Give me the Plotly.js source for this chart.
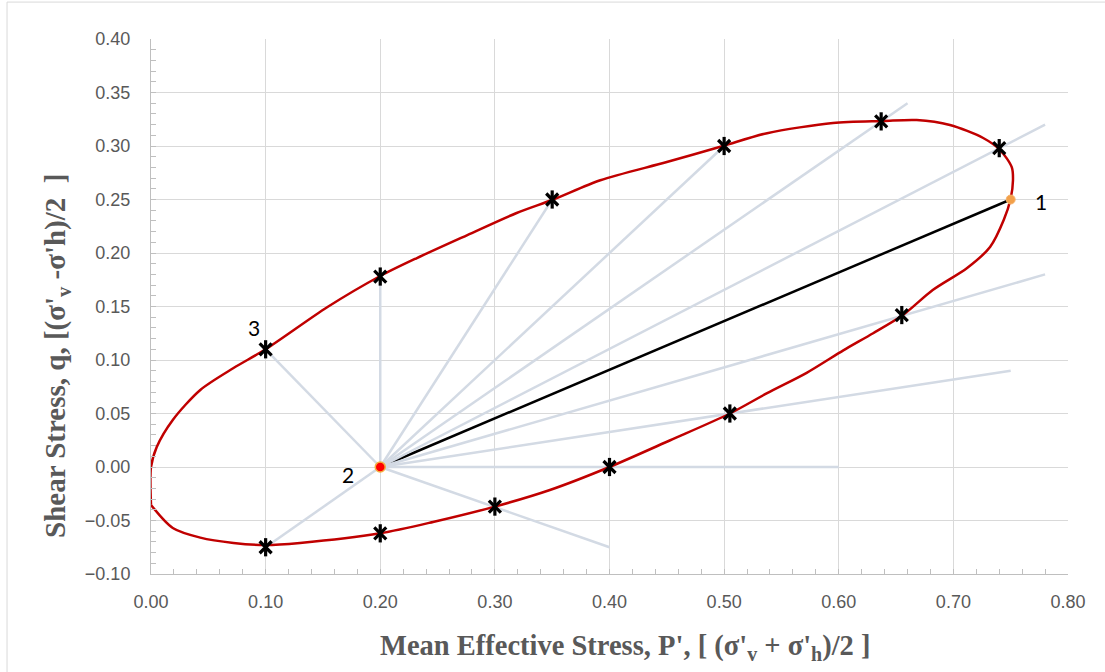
<!DOCTYPE html>
<html>
<head>
<meta charset="utf-8">
<script src="https://cdn.plot.ly/plotly-3.0.1.min.js"></script>
<style>
html,body{margin:0;padding:0;background:#fff;}
#chart{width:1105px;height:672px;}
</style>
</head>
<body>
<div id="chart"></div>
<script>
// ---- data ----
const pathX = [0, 0, 0.005, 0.019, 0.043, 0.072, 0.10, 0.154, 0.20, 0.232, 0.276, 0.319, 0.351, 0.392, 0.450, 0.499, 0.5375, 0.595, 0.639, 0.668, 0.697, 0.726, 0.741, 0.751, 0.752, 0.750, 0.744, 0.732, 0.712, 0.682, 0.656, 0.630, 0.604, 0.572, 0.5375, 0.505, 0.453, 0.40, 0.348, 0.30, 0.246, 0.20, 0.13, 0.10, 0.072, 0.043, 0.019, 0];
const pathY = [-0.035, 0, 0.0187, 0.044, 0.072, 0.0925, 0.110, 0.1495, 0.1785, 0.1953, 0.2168, 0.2374, 0.250, 0.268, 0.285, 0.300, 0.312, 0.3215, 0.3234, 0.3243, 0.3196, 0.3075, 0.296, 0.280, 0.268, 0.251, 0.231, 0.2056, 0.186, 0.1654, 0.142, 0.125, 0.109, 0.088, 0.069, 0.050, 0.025, 0.000, -0.0215, -0.037, -0.0514, -0.062, -0.071, -0.073, -0.071, -0.066, -0.057, -0.0355];

const starX = [0.10, 0.20, 0.35, 0.50, 0.637, 0.74, 0.655, 0.505, 0.40, 0.30, 0.20, 0.10];
const starY = [0.11, 0.178, 0.25, 0.30, 0.323, 0.298, 0.142, 0.05, 0.00, -0.037, -0.062, -0.075];

const rayEndX = [0.10, 0.20, 0.35, 0.50, 0.66, 0.78, 0.78, 0.75, 0.60, 0.40, 0.10];
const rayEndY = [0.11, 0.178, 0.25, 0.30, 0.34, 0.32, 0.18, 0.09, 0.00, -0.075, -0.075];

const point1 = {x: 0.75, y: 0.25, label: '1'};
const point2 = {x: 0.20, y: 0.00, label: '2'};
const point3 = {x: 0.10, y: 0.11, label: '3'};

const xTickVals = [0, 0.1, 0.2, 0.3, 0.4, 0.5, 0.6, 0.7, 0.8];
const yTickVals = [-0.10, -0.05, 0, 0.05, 0.10, 0.15, 0.20, 0.25, 0.30, 0.35, 0.40];

// ---- build traces ----
const rx = [], ry = [];
for (let i = 0; i < rayEndX.length; i++) {
  rx.push(point2.x, rayEndX[i], null);
  ry.push(point2.y, rayEndY[i], null);
}

const traces = [
  {x: [point2.x, point1.x], y: [point2.y, point1.y], mode: 'lines',
   line: {color: '#000000', width: 2.5}, hoverinfo: 'skip'},
  {x: rx, y: ry, mode: 'lines', line: {color: '#d3dae4', width: 2.5}, hoverinfo: 'skip'},
  {x: pathX, y: pathY, mode: 'lines', line: {color: '#c00000', width: 2.5, shape: 'spline', smoothing: 0.8}, hoverinfo: 'skip'},
  {x: starX, y: starY, mode: 'markers',
   marker: {symbol: 'x-thin-open', size: 12, color: '#000', line: {color: '#000', width: 3.2}}, hoverinfo: 'skip'},
  {x: starX, y: starY, mode: 'markers',
   marker: {symbol: 'line-ns-open', size: 13, color: '#000', line: {color: '#000', width: 3.2}}, hoverinfo: 'skip'},
  {x: [point1.x], y: [point1.y], mode: 'markers',
   marker: {symbol: 'circle', size: 9, color: '#f2a04a', line: {color: '#f7b36a', width: 1}}, hoverinfo: 'skip'},
  {x: [point2.x], y: [point2.y], mode: 'markers',
   marker: {symbol: 'circle', size: 10, color: '#ff0000', line: {color: '#f5b041', width: 1.5}}, hoverinfo: 'skip'}
];

const labelFont = {family: 'Lato, Liberation Sans, sans-serif', size: 21, color: '#000'};
const xTitleFont = {family: 'Liberation Serif, Times New Roman, serif', size: 28.5, color: '#595959'};
const yTitleFont = {family: 'Liberation Serif, Times New Roman, serif', size: 29, color: '#595959'};
const tickFont = {family: 'Liberation Sans, Arial, sans-serif', size: 18, color: '#595959'};

const layout = {
  width: 1105, height: 672,
  margin: {l: 151, r: 37, t: 39, b: 98},
  paper_bgcolor: '#ffffff', plot_bgcolor: '#ffffff',
  showlegend: false,
  xaxis: {
    range: [0, 0.8], tickvals: xTickVals, tickformat: '.2f',
    showgrid: true, gridcolor: '#d9d9d9', gridwidth: 1, zeroline: false,
    showline: true, linecolor: '#bfbfbf', linewidth: 1,
    ticks: 'inside', ticklen: 5, tickcolor: '#bfbfbf',
    ticklabelstandoff: 11,
    minor: {dtick: 0.02, ticks: 'inside', ticklen: 5, tickcolor: '#bfbfbf', showgrid: false},
    tickfont: tickFont, fixedrange: true
  },
  yaxis: {
    range: [-0.10, 0.40], tickvals: yTickVals, tickformat: '.2f',
    showgrid: true, gridcolor: '#d9d9d9', gridwidth: 1, zeroline: false,
    showline: true, linecolor: '#bfbfbf', linewidth: 1,
    ticks: 'inside', ticklen: 5, tickcolor: '#bfbfbf',
    ticklabelstandoff: 16,
    minor: {dtick: 0.01, ticks: 'inside', ticklen: 5, tickcolor: '#bfbfbf', showgrid: false},
    tickfont: tickFont, fixedrange: true
  },
  annotations: [
    {x: point1.x, y: point1.y, text: point1.label, showarrow: false, xshift: 30, yshift: -2, font: labelFont},
    {x: point2.x, y: point2.y, text: point2.label, showarrow: false, xshift: -32, yshift: -7, font: labelFont},
    {x: point3.x, y: point3.y, text: point3.label, showarrow: false, xshift: -12, yshift: 22, font: labelFont},
    {xref: 'paper', yref: 'paper', x: 0.517, y: -0.138, xanchor: 'center', yanchor: 'middle', showarrow: false,
     text: "<b>Mean Effective Stress, P', [ (σ'<sub>v</sub> + σ'<sub>h</sub>)/2 ]</b>", font: xTitleFont},
    {xref: 'paper', yref: 'paper', x: -0.1025, y: 0.4075, xanchor: 'center', yanchor: 'middle', showarrow: false,
     textangle: -90, text: "<b>Shear Stress, q, [(σ'<sub>v</sub> -σ'h)/2  ]</b>", font: yTitleFont}
  ],
  shapes: [
    {type: 'line', xref: 'paper', yref: 'paper', x0: -0.157, x1: -0.157, y0: -0.2, y1: 1.069,
     line: {color: '#d9d9d9', width: 1}},
    {type: 'line', xref: 'paper', yref: 'paper', x0: -0.157, x1: 1.05, y0: 1.069, y1: 1.069,
     line: {color: '#d9d9d9', width: 1}}
  ]
};

Plotly.newPlot('chart', traces, layout, {displayModeBar: false, staticPlot: true});
</script>
</body>
</html>
